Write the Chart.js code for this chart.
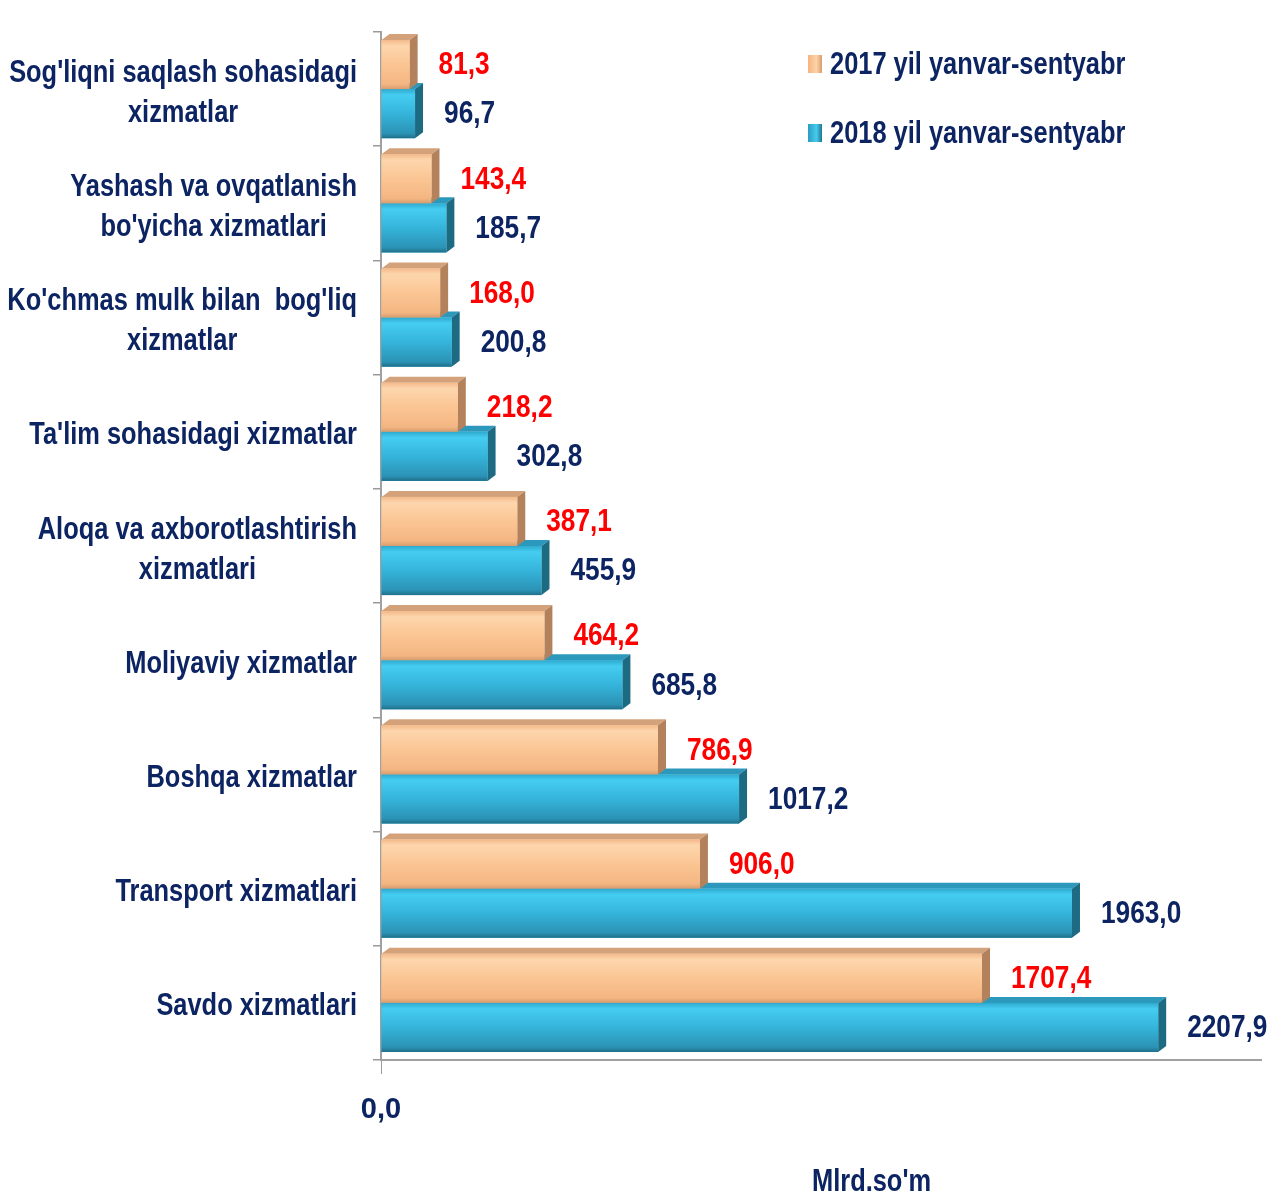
<!DOCTYPE html>
<html>
<head>
<meta charset="utf-8">
<script src="https://cdn.jsdelivr.net/npm/chart.js@4.4.1/dist/chart.umd.min.js"></script>
<style>
  html, body { margin: 0; padding: 0; background: #fff; }
  #wrap { position: relative; width: 1272px; height: 1195px; overflow: hidden; }
  .txt { position: absolute; font-family: 'Liberation Sans', Arial, sans-serif; font-weight: bold; font-size: 31px; line-height: 36px;
         color: #0d2463; white-space: nowrap; transform: scaleX(0.82); transform-origin: 0 50%; }
  .box { position: absolute; width: 14px; height: 18px; }
</style>
</head>
<body>
<div id="wrap">
  <canvas id="chart" width="1272" height="1195"></canvas>
  <div class="box" style="left:808px; top:55px; background:linear-gradient(to right,#f6b47e,#fcd3a8 60%,#d99c6c);"></div>
  <div class="txt" style="left:830px; top:46px;">2017 yil yanvar-sentyabr</div>
  <div class="box" style="left:808px; top:124px; background:linear-gradient(to right,#2b9cc0,#46cbee 60%,#1f7693);"></div>
  <div class="txt" style="left:830px; top:115px;">2018 yil yanvar-sentyabr</div>
  <div class="txt" style="left:812px; top:1163px;">Mlrd.so'm</div>
</div>
<script>
// categories (top to bottom), one array of lines per label
const categories = [
    ["Sog'liqni saqlash sohasidagi", "xizmatlar"],
    ["Yashash va ovqatlanish", "bo'yicha xizmatlari"],
    ["Ko'chmas mulk bilan  bog'liq", "xizmatlar"],
    ["Ta'lim sohasidagi xizmatlar"],
    ["Aloqa va axborotlashtirish", "xizmatlari"],
    ["Moliyaviy xizmatlar"],
    ["Boshqa xizmatlar"],
    ["Transport xizmatlari"],
    ["Savdo xizmatlari"]
];
const values2017 = [81.3, 143.4, 168.0, 218.2, 387.1, 464.2, 786.9, 906.0, 1707.4];
const values2018 = [96.7, 185.7, 200.8, 302.8, 455.9, 685.8, 1017.2, 1963.0, 2207.9];
const seriesNames = ['2017 yil yanvar-sentyabr', '2018 yil yanvar-sentyabr'];
const xTickLabels = ['0,0'];

const FONT = "'Liberation Sans', Arial, sans-serif";
const NAVY = '#0d2463';
const SX = 0.82;          // narrow look (text squeezed horizontally)
const DX = 8, DY = 6;     // 3D depth of the bars

const looks = [
    { top: '#d4a27a', side: '#b3825d', stops: [[0, '#f4b98a'], [0.12, '#fdd6ad'], [0.5, '#fbc593'], [0.9, '#f3b682'], [1, '#d69c6e']], label: '#ff0000' },
    { top: '#2c98bb', side: '#1d6a83', stops: [[0, '#2fa9cf'], [0.12, '#45cdf1'], [0.5, '#35b4da'], [0.9, '#2b93b5'], [1, '#1f6f88']], label: NAVY }
];

function fmt(v) {
    return v.toFixed(1).replace('.', ',');
}

function narrowText(ctx, text, x, y, align) {
    ctx.save();
    ctx.translate(x, y);
    ctx.scale(SX, 1);
    ctx.textAlign = align;
    ctx.fillText(text, 0, 0);
    ctx.restore();
}

// draws the 3D faces over the library's bar elements
const bars3d = {
    id: 'bars3d',
    afterDatasetsDraw(chart) {
        const ctx = chart.ctx;
        const metas = [chart.getDatasetMeta(0), chart.getDatasetMeta(1)];
        const n = categories.length;
        ctx.save();
        for (let i = n - 1; i >= 0; i--) {
            for (let d = 1; d >= 0; d--) {
                const el = metas[d].data[i];
                const p = el.getProps(['x', 'y', 'base', 'height'], true);
                const l = p.base, r = p.x, t = p.y - p.height / 2, b = p.y + p.height / 2;
                const lk = looks[d];
                // top face
                ctx.fillStyle = lk.top;
                ctx.beginPath();
                ctx.moveTo(l, t);
                ctx.lineTo(l + DX, t - DY);
                ctx.lineTo(r + DX, t - DY);
                ctx.lineTo(r, t);
                ctx.closePath();
                ctx.fill();
                // side face
                ctx.fillStyle = lk.side;
                ctx.beginPath();
                ctx.moveTo(r, t);
                ctx.lineTo(r + DX, t - DY);
                ctx.lineTo(r + DX, b - DY);
                ctx.lineTo(r, b);
                ctx.closePath();
                ctx.fill();
                // front face
                const g = ctx.createLinearGradient(0, t, 0, b);
                lk.stops.forEach(s => g.addColorStop(s[0], s[1]));
                ctx.fillStyle = g;
                ctx.fillRect(l, t, r - l, b - t);
            }
        }
        // value labels
        ctx.font = 'bold 32px ' + FONT;
        ctx.textBaseline = 'middle';
        for (let d = 0; d < 2; d++) {
            const vals = d === 0 ? values2017 : values2018;
            metas[d].data.forEach((el, i) => {
                const p = el.getProps(['x', 'y'], true);
                ctx.fillStyle = looks[d].label;
                narrowText(ctx, fmt(vals[i]), p.x + DX + 21, p.y + 1, 'left');
            });
        }
        ctx.restore();
    },
    afterDraw(chart) {
        // category labels: block right aligned, lines centred within the block
        const ctx = chart.ctx;
        const ys = chart.scales.y;
        ctx.save();
        ctx.font = 'bold 31px ' + FONT;
        ctx.fillStyle = NAVY;
        ctx.textBaseline = 'middle';
        const rightEdge = 357, lineH = 40;
        categories.forEach((lines, i) => {
            const cy = ys.getPixelForValue(i) + 4;
            const w = Math.max(...lines.map(s => ctx.measureText(s).width)) * SX;
            const cx = rightEdge - w / 2;
            lines.forEach((s, k) => {
                narrowText(ctx, s, cx, cy + (k - (lines.length - 1) / 2) * lineH, 'center');
            });
        });
        ctx.restore();
    }
};

new Chart(document.getElementById('chart').getContext('2d'), {
    type: 'bar',
    data: {
        labels: categories,
        datasets: [
            { label: seriesNames[0], data: values2017, backgroundColor: '#fbc593', borderWidth: 0 },
            { label: seriesNames[1], data: values2018, backgroundColor: '#35b4da', borderWidth: 0 }
        ]
    },
    options: {
        indexAxis: 'y',
        responsive: false,
        animation: false,
        devicePixelRatio: 1,
        layout: { padding: { top: 32, right: 11, bottom: 65, left: 0 } },
        categoryPercentage: 0.86,
        barPercentage: 1.0,
        plugins: {
            legend: { display: false },
            tooltip: { enabled: false }
        },
        scales: {
            x: {
                min: 0,
                max: 2500,
                ticks: {
                    stepSize: 2500,
                    padding: 19,
                    color: NAVY,
                    font: { family: FONT, size: 29, weight: 'bold' },
                    callback: (v, i) => xTickLabels[i] || ''
                },
                grid: {
                    drawOnChartArea: false,
                    tickLength: 14,
                    color: c => (c.tick && c.tick.value === 0) ? '#9a9a9a' : 'rgba(0,0,0,0)'
                },
                border: { color: '#a0a0a0', width: 2 },
                afterFit: s => { s.height = 70; s.paddingRight = 0; }
            },
            y: {
                ticks: { display: false },
                grid: { offset: true, drawOnChartArea: false, tickLength: 8, color: '#9a9a9a', lineWidth: 1.5 },
                border: { color: '#a0a0a0', width: 2 },
                afterFit: s => { s.width = 381; }
            }
        }
    },
    plugins: [bars3d]
});
</script>
</body>
</html>
